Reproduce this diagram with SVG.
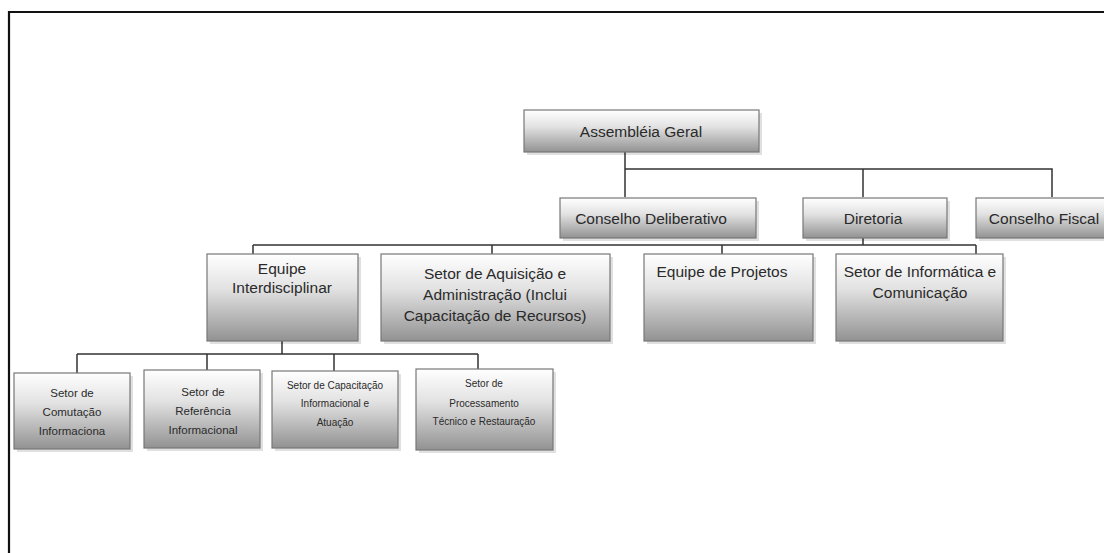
<svg xmlns="http://www.w3.org/2000/svg" width="1104" height="553" viewBox="0 0 1104 553">
<defs>
<linearGradient id="g" x1="0" y1="0" x2="0" y2="1">
<stop offset="0" stop-color="#ffffff"/>
<stop offset="0.4" stop-color="#e2e2e2"/>
<stop offset="1" stop-color="#929292"/>
</linearGradient>
<style>
.box{fill:url(#g);stroke:#777;stroke-width:1.2}
.sh{fill:#000;opacity:0.12}
.t{font-family:"Liberation Sans",Arial,sans-serif;fill:#2a2a2a;text-anchor:middle}
.l{font-size:15.5px}
.s{font-size:11.5px}
.xs{font-size:10px}
.c{stroke:#333;stroke-width:1.5;fill:none}
</style>
</defs>
<rect width="1104" height="553" fill="#fff"/>
<path d="M9,553 V12 H1104" fill="none" stroke="#111" stroke-width="2.2"/>
<g id="connectors">
<path class="c" d="M625,152 V197 M625,169 H1052 V197 M863,169 V197"/>
<path class="c" d="M863,238 V245 M253,245 H976 M253,245 V254 M492,245 V254 M722,245 V254 M976,245 V254"/>
<path class="c" d="M282,341 V354 M77,354 H478 M77,354 V373 M207,354 V370 M334,354 V371 M478,354 V369"/>
</g>
<g id="assembleia">
<rect class="sh" x="527" y="113" width="235" height="42"/>
<rect class="box" x="524" y="110" width="235" height="42"/>
<text class="t l" x="641" y="137">Assembléia Geral</text>
</g>
<g id="conselho-deliberativo">
<rect class="sh" x="563" y="201" width="196" height="40"/>
<rect class="box" x="560" y="198" width="196" height="40"/>
<text class="t l" x="651" y="224">Conselho Deliberativo</text>
</g>
<g id="diretoria">
<rect class="sh" x="806" y="201" width="144" height="40"/>
<rect class="box" x="803" y="198" width="144" height="40"/>
<text class="t l" x="873" y="224">Diretoria</text>
</g>
<g id="conselho-fiscal">
<rect class="sh" x="979" y="201" width="140" height="40"/>
<rect class="box" x="976" y="198" width="140" height="40"/>
<text class="t l" x="1044" y="224">Conselho Fiscal</text>
</g>
<g id="equipe-interdisciplinar">
<rect class="sh" x="210" y="257" width="151" height="87"/>
<rect class="box" x="207" y="254" width="151" height="87"/>
<text class="t l" x="282" y="274">Equipe</text>
<text class="t l" x="282" y="293">Interdisciplinar</text>
</g>
<g id="setor-aquisicao">
<rect class="sh" x="384" y="257" width="229" height="87"/>
<rect class="box" x="381" y="254" width="229" height="87"/>
<text class="t l" x="495" y="279">Setor de Aquisição e</text>
<text class="t l" x="495" y="300">Administração  (Inclui</text>
<text class="t l" x="495" y="321">Capacitação  de Recursos)</text>
</g>
<g id="equipe-projetos">
<rect class="sh" x="647" y="257" width="169" height="87"/>
<rect class="box" x="644" y="254" width="169" height="87"/>
<text class="t l" x="722" y="277">Equipe de Projetos</text>
</g>
<g id="setor-informatica">
<rect class="sh" x="839" y="257" width="167" height="87"/>
<rect class="box" x="836" y="254" width="167" height="87"/>
<text class="t l" x="920" y="277">Setor de Informática e</text>
<text class="t l" x="920" y="298">Comunicação</text>
</g>
<g id="setor-comutacao">
<rect class="sh" x="17" y="376" width="116" height="76"/>
<rect class="box" x="14" y="373" width="116" height="76"/>
<text class="t s" x="72" y="397">Setor de</text>
<text class="t s" x="72" y="416">Comutação</text>
<text class="t s" x="72" y="435">Informaciona</text>
</g>
<g id="setor-referencia">
<rect class="sh" x="147" y="373" width="116" height="78"/>
<rect class="box" x="144" y="370" width="116" height="78"/>
<text class="t s" x="203" y="396">Setor de</text>
<text class="t s" x="203" y="415">Referência</text>
<text class="t s" x="203" y="434">Informacional</text>
</g>
<g id="setor-capacitacao">
<rect class="sh" x="275" y="374" width="126" height="77"/>
<rect class="box" x="272" y="371" width="126" height="77"/>
<text class="t xs" x="335" y="389">Setor de Capacitação</text>
<text class="t xs" x="335" y="407">Informacional e</text>
<text class="t xs" x="335" y="426">Atuação</text>
</g>
<g id="setor-processamento">
<rect class="sh" x="419" y="372" width="137" height="81"/>
<rect class="box" x="416" y="369" width="137" height="81"/>
<text class="t xs" x="484" y="387">Setor de</text>
<text class="t xs" x="484" y="407">Processamento</text>
<text class="t xs" x="484" y="425">Técnico e Restauração</text>
</g>
</svg>
